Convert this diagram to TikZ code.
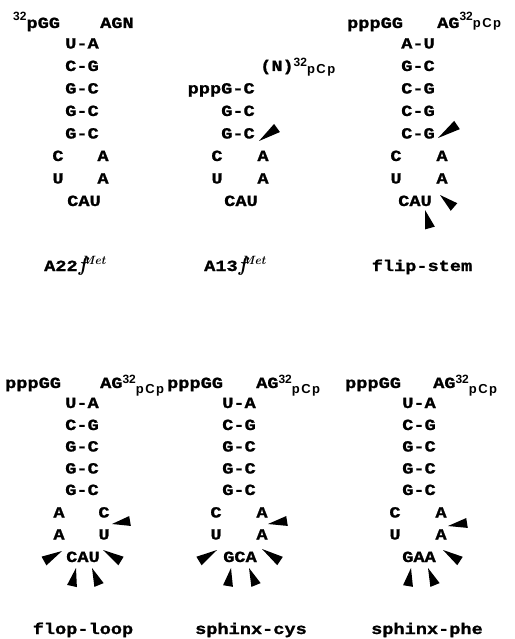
\documentclass[tikz,border=0pt]{standalone}
\usepackage{fontspec}
\usetikzlibrary{calc}
\newfontfamily\seqf[FakeStretch=1.2, BoldFeatures={FakeBold=1.2}]{Liberation Mono}
\newfontfamily\supf{Liberation Sans}
\newcommand\seqfont{\seqf\bfseries\fontsize{15.5}{15.5}\selectfont}
\newcommand\thirtytwo[1]{\raisebox{#1}{\supf\bfseries\fontsize{12}{12}\selectfont 32}}
\newcommand\pcp[1]{{\supf\bfseries\fontsize{13}{13}\selectfont\raisebox{-#1}{p}\kern1.5pt\raisebox{-#1}{C}\kern1.5pt\raisebox{-#1}{p}}}
\newcommand\metlab[1]{{\seqfont #1}\kern1pt{\rmfamily\bfseries\itshape\fontsize{20}{20}\selectfont f}\kern-5pt\raisebox{7pt}{\rmfamily\bfseries\itshape\fontsize{12}{12}\selectfont Met}}
\newcommand\cutmark[2]{\fill[black] #1 -- ($#2!5pt!90:#1$) -- ($#2!5pt!-90:#1$) -- cycle;}
\tikzset{
  seq/.style={anchor=base, inner sep=0pt, font=\seqfont},
  seqw/.style={anchor=base west, inner sep=0pt, font=\seqfont},
}
\begin{document}
\begin{tikzpicture}[x=1pt, y=-1pt]
\useasboundingbox (0,0) rectangle (514,639);
% ---------- panel 1: A22
\node[seqw] (a-h1) at (13,28) {\thirtytwo{7pt}pGG};
\node[seqw] (a-h2) at (100,28) {AGN};
\node[seq] (a-s1) at (82,48.5) {U-A};
\node[seq] (a-s2) at (82,71) {C-G};
\node[seq] (a-s3) at (82,93.5) {G-C};
\node[seq] (a-s4) at (82,116) {G-C};
\node[seq] (a-s5) at (82,138.5) {G-C};
\node[seq] (a-l1) at (58,161) {C};
\node[seq] (a-r1) at (103,161) {A};
\node[seq] (a-l2) at (58,183.5) {U};
\node[seq] (a-r2) at (103,183.5) {A};
\node[seq] (a-ac) at (84,206) {CAU};
\node[seqw] (a-lab) at (44,271) {\metlab{A22}};
% ---------- panel 2: A13
\node[seqw] (b-h1) at (260,71) {(N)\thirtytwo{4pt}\pcp{3pt}};
\node[seq] (b-s1) at (221.2,93.5) {pppG-C};
\node[seq] (b-s2) at (238,116) {G-C};
\node[seq] (b-s3) at (238,138.5) {G-C};
\node[seq] (b-l1) at (217,161) {C};
\node[seq] (b-r1) at (263,161) {A};
\node[seq] (b-l2) at (217,183.5) {U};
\node[seq] (b-r2) at (263,183.5) {A};
\node[seq] (b-ac) at (241,206) {CAU};
\node[seqw] (b-lab) at (204,271) {\metlab{A13}};
\cutmark{(259,141)}{(277,128)}
% ---------- panel 3: flip-stem
\node[seqw] (c-h1) at (347,28) {pppGG};
\node[seqw] (c-h2) at (437,28) {AG\thirtytwo{7pt}\pcp{0pt}};
\node[seq] (c-s1) at (418,48.5) {A-U};
\node[seq] (c-s2) at (418,71) {G-C};
\node[seq] (c-s3) at (418,93.5) {C-G};
\node[seq] (c-s4) at (418,116) {C-G};
\node[seq] (c-s5) at (418,138.5) {C-G};
\node[seq] (c-l1) at (396,161) {C};
\node[seq] (c-r1) at (442,161) {A};
\node[seq] (c-l2) at (396,183.5) {U};
\node[seq] (c-r2) at (442,183.5) {A};
\node[seq] (c-ac) at (415,206) {CAU};
\node[seq] (c-lab) at (422,271) {flip-stem};
\cutmark{(438,138)}{(457,125)}
\cutmark{(440,195)}{(454,207)}
\cutmark{(425,210)}{(430,228)}
% ---------- panel 4: flop-loop
\node[seqw] (d-h1) at (5,388) {pppGG};
\node[seqw] (d-h2) at (100,388) {AG\thirtytwo{5pt}\pcp{5pt}};
\node[seq] (d-s1) at (82,408) {U-A};
\node[seq] (d-s2) at (82,430) {C-G};
\node[seq] (d-s3) at (82,451.5) {G-C};
\node[seq] (d-s4) at (82,473.5) {G-C};
\node[seq] (d-s5) at (82,495) {G-C};
\node[seq] (d-l1) at (59,517.5) {A};
\node[seq] (d-r1) at (104,517.5) {C};
\node[seq] (d-l2) at (59,539.5) {A};
\node[seq] (d-r2) at (104,539.5) {U};
\node[seq] (d-ac) at (83,562) {CAU};
\node[seq] (d-lab) at (83,634) {flop-loop};
\cutmark{(112,524)}{(130,521)}
\cutmark{(62,551)}{(44,561)}
\cutmark{(103,550)}{(121,561)}
\cutmark{(76,568)}{(72,586)}
\cutmark{(92,568)}{(99,585)}
% ---------- panel 5: sphinx-cys
\node[seqw] (e-h1) at (167,388) {pppGG};
\node[seqw] (e-h2) at (256,388) {AG\thirtytwo{5pt}\pcp{5pt}};
\node[seq] (e-s1) at (239,408) {U-A};
\node[seq] (e-s2) at (239,430) {C-G};
\node[seq] (e-s3) at (239,451.5) {G-C};
\node[seq] (e-s4) at (239,473.5) {G-C};
\node[seq] (e-s5) at (239,495) {G-C};
\node[seq] (e-l1) at (216,517.5) {C};
\node[seq] (e-r1) at (262,517.5) {A};
\node[seq] (e-l2) at (216,539.5) {U};
\node[seq] (e-r2) at (262,539.5) {A};
\node[seq] (e-ac) at (240,562) {GCA};
\node[seq] (e-lab) at (251,634) {sphinx-cys};
\cutmark{(268,524)}{(287,521)}
\cutmark{(217,550)}{(199,561)}
\cutmark{(262,549)}{(280,561)}
\cutmark{(231,568)}{(228,586)}
\cutmark{(249,568)}{(256,585)}
% ---------- panel 6: sphinx-phe
\node[seqw] (f-h1) at (345,388) {pppGG};
\node[seqw] (f-h2) at (433,388) {AG\thirtytwo{5pt}\pcp{5pt}};
\node[seq] (f-s1) at (419,408) {U-A};
\node[seq] (f-s2) at (419,430) {C-G};
\node[seq] (f-s3) at (419,451.5) {G-C};
\node[seq] (f-s4) at (419,473.5) {G-C};
\node[seq] (f-s5) at (419,495) {G-C};
\node[seq] (f-l1) at (395,517.5) {C};
\node[seq] (f-r1) at (441,517.5) {A};
\node[seq] (f-l2) at (395,539.5) {U};
\node[seq] (f-r2) at (441,539.5) {A};
\node[seq] (f-ac) at (419,562) {GAA};
\node[seq] (f-lab) at (427,634) {sphinx-phe};
\cutmark{(448,526)}{(467,523)}
\cutmark{(443,550)}{(460,561)}
\cutmark{(411,568)}{(408,586)}
\cutmark{(428,568)}{(435,585)}
\end{tikzpicture}
\end{document}
